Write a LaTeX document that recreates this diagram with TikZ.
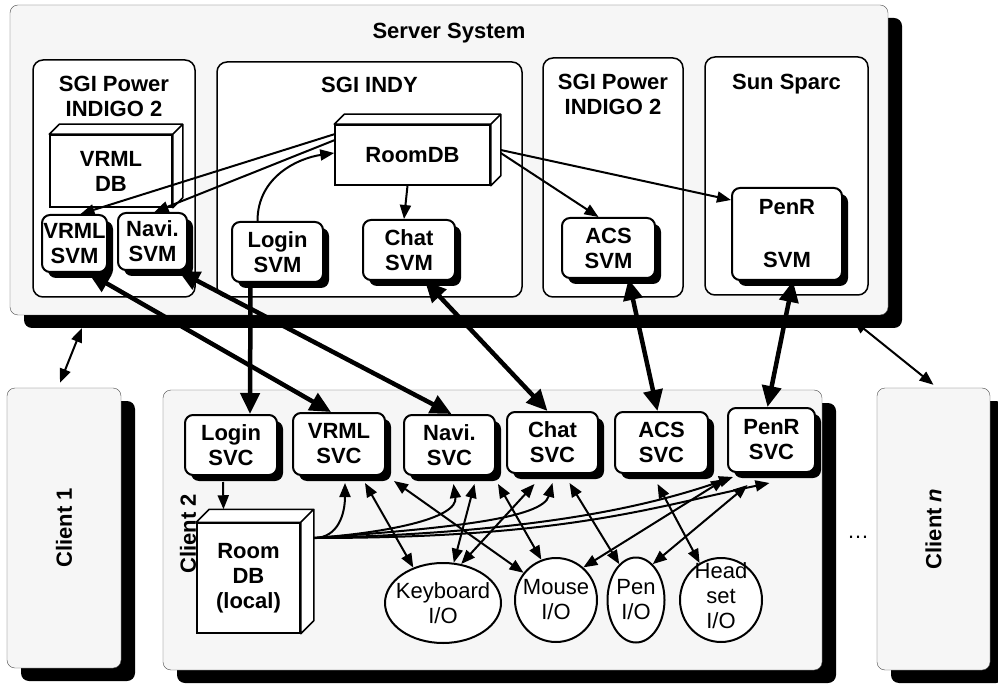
\documentclass[tikz,border=0pt]{standalone}
\usepackage{fontspec}
\setmainfont{Liberation Sans}
\usetikzlibrary{positioning,shapes.geometric,shadows,arrows.meta}
\newcommand{\boldtxt}{\fontsize{22}{25}\selectfont\bfseries}
\newcommand{\plaintxt}{\fontsize{22}{25}\selectfont}
\newcommand{\dbfaces}[2]{%
  \draw[line width=1.5pt,fill=white,line join=round] (#1.north west) -- ([xshift=#2,yshift=#2]#1.north west)
    -- ([xshift=#2,yshift=#2]#1.north east) -- ([xshift=#2,yshift=#2]#1.south east)
    -- (#1.south east) -- (#1.north east) -- cycle
    (#1.north east) -- ([xshift=#2,yshift=#2]#1.north east);}

\begin{document}
\begin{tikzpicture}[x=1pt,y=-1pt,
  sysbox/.style={draw=black!70,thin,fill=gray!7,rounded corners=8pt,
    drop shadow={shadow xshift=14pt,shadow yshift=-13pt,fill=black,opacity=1}},
  hostbox/.style={draw,line width=1.5pt,fill=white,rounded corners=10pt},
  hostlbl/.style={align=center,font=\boldtxt,inner sep=2pt},
  svbox/.style={draw,line width=2pt,fill=white,rounded corners=8pt,align=center,inner sep=1pt,font=\boldtxt,
    drop shadow={shadow xshift=6pt,shadow yshift=-6pt,fill=black,opacity=1}},
  dbbox/.style={draw,line width=1.5pt,fill=white,align=center,font=\boldtxt},
  iobox/.style={draw,ellipse,line width=2pt,fill=white,inner sep=0pt},
  iolbl/.style={align=center,font=\plaintxt,inner sep=0pt},
  fatarrow/.style={line width=4.5pt,-{Triangle[length=21pt,width=19pt]}},
  fatboth/.style={line width=4.5pt,{Triangle[length=21pt,width=19pt]}-{Triangle[length=21pt,width=19pt]}},
  thinarrow/.style={line width=2pt,-{Triangle[length=14pt,width=11pt]}},
  thinboth/.style={line width=2pt,{Triangle[length=14pt,width=11pt]}-{Triangle[length=14pt,width=11pt]}}]

\fill[white] (0,0) rectangle (998,684);
\useasboundingbox (0,0) rectangle (998,684);

\node[sysbox,minimum width=878pt,minimum height=310pt] (srv) at (449,160) {};
\node[hostlbl,below=16pt of srv.north] (srvlbl) {Server System};

\node[hostbox,minimum width=162pt,minimum height=237pt] (indigoA) at (114,178.5) {};
\node[hostlbl,below=15pt of indigoA.north] (indigoAlbl) {SGI Power\\INDIGO 2};
\node[hostbox,minimum width=305pt,minimum height=235pt] (indy) at (369.5,179.5) {};
\node[hostlbl,below=14pt of indy.north] (indylbl) {SGI INDY};
\node[hostbox,minimum width=140pt,minimum height=239pt] (indigoB) at (613,177.5) {};
\node[hostlbl,below=15pt of indigoB.north] (indigoBlbl) {SGI Power\\INDIGO 2};
\node[hostbox,minimum width=163pt,minimum height=238pt] (sparc) at (786.5,176) {};
\node[hostlbl,below=16pt of sparc.north] (sparclbl) {Sun Sparc};

\node[dbbox,minimum width=122pt,minimum height=72pt] (vrmldb) at (111,171) {VRML\\DB};
\dbfaces{vrmldb}{10pt}
\node[dbbox,minimum width=155pt,minimum height=60pt] (roomdb) at (412.5,155) {RoomDB};
\dbfaces{roomdb}{10pt}

\node[svbox,minimum width=65pt,minimum height=57pt] (vrmlsvm) at (74.5,243.5) {VRML\\SVM};
\node[svbox,minimum width=69pt,minimum height=57pt] (navisvm) at (152.5,241.5) {Navi.\\SVM};
\node[svbox,minimum width=91pt,minimum height=60pt] (loginsvm) at (277.5,252) {Login\\SVM};
\node[svbox,minimum width=92pt,minimum height=60pt] (chatsvm) at (409,250) {Chat\\SVM};
\node[svbox,minimum width=93pt,minimum height=60pt] (acssvm) at (608.5,248) {ACS\\SVM};
\node[svbox,minimum width=110pt,minimum height=92pt] (penrsvm) at (787,234) {PenR\\[28pt]SVM};

\node[sysbox,minimum width=114pt,minimum height=280pt] (client1) at (64,528) {};
\node[hostlbl,rotate=90] (client1lbl) at (client1.center) {Client 1};
\node[sysbox,minimum width=659pt,minimum height=280pt] (client2) at (492.5,530) {};
\node[sysbox,minimum width=113pt,minimum height=282pt] (clientn) at (933.5,529) {};
\node[hostlbl,rotate=90] (clientnlbl) at (clientn.center) {Client \textit{n}};
\node[iolbl] (dots) at (858,537) {\dots};

\node[svbox,minimum width=92pt,minimum height=60pt] (loginsvc) at (231,445) {Login\\SVC};
\node[svbox,minimum width=92pt,minimum height=62pt] (vrmlsvc) at (339,444) {VRML\\SVC};
\node[svbox,minimum width=91pt,minimum height=60pt] (navisvc) at (449.5,445) {Navi.\\SVC};
\node[svbox,minimum width=91pt,minimum height=61pt] (chatsvc) at (552.5,442.5) {Chat\\SVC};
\node[svbox,minimum width=93pt,minimum height=61pt] (acssvc) at (661.5,442.5) {ACS\\SVC};
\node[svbox,minimum width=87pt,minimum height=64pt] (penrsvc) at (771.5,440) {PenR\\SVC};

\node[dbbox,minimum width=103pt,minimum height=110pt] (localdb) at (248.5,578) {Room\\DB\\(local)};
\dbfaces{localdb}{13pt}
\node[hostlbl,rotate=90] (client2lbl) at (188,534) {Client 2};

\node[iobox,minimum width=116pt,minimum height=80pt,label={[iolbl]center:{Keyboard\\I/O}}] (kbd) at (443,603) {};
\node[iobox,minimum width=82pt,minimum height=84pt,label={[iolbl]center:{Mouse\\I/O}}] (mouse) at (556,600) {};
\node[iobox,minimum width=57pt,minimum height=85pt,label={[iolbl]center:{Pen\\I/O}}] (pen) at (636,600) {};
\node[iobox,minimum width=82pt,minimum height=84pt,label={[iolbl,yshift=4pt]center:{Head\\set\\I/O}}] (headset) at (721,600) {};

\draw[thinarrow] ([yshift=-10pt]roomdb.north west) -- ([xshift=6pt]vrmlsvm.north);
\draw[thinarrow] ([yshift=-16pt]roomdb.north west) -- ([xshift=2pt]navisvm.north);
\draw[thinarrow] ([xshift=-20pt]loginsvm.north) .. controls +(0,-45) and +(-35,5) .. ([yshift=2pt]roomdb.west);
\draw[thinarrow] ([xshift=-5pt]roomdb.south) -- ([xshift=-5pt]chatsvm.north);
\draw[thinarrow] ([xshift=10pt,yshift=2pt]roomdb.east) -- ([xshift=-10pt]acssvm.north);
\draw[thinarrow] ([xshift=10pt,yshift=5pt]roomdb.east) -- ([yshift=34pt]penrsvm.west);

\draw[thinboth] ([xshift=-4pt,yshift=5pt]client1.north) -- ([xshift=72pt,yshift=-13pt]srv.south west);
\draw[thinboth] ([yshift=3pt]clientn.north) -- ([xshift=-35pt,yshift=-5pt]srv.south east);

\draw[fatboth] ([xshift=14pt]vrmlsvm.south) -- ([xshift=-8pt]vrmlsvc.north);
\draw[fatboth] ([xshift=26pt]navisvm.south) -- ([xshift=2pt]navisvc.north);
\draw[fatarrow] ([xshift=-27pt]loginsvm.south) -- ([xshift=19pt]loginsvc.north);
\draw[fatboth] ([xshift=16pt]chatsvm.south) -- ([xshift=-5pt]chatsvc.north);
\draw[fatboth] ([xshift=20pt]acssvm.south) -- ([xshift=-4pt]acssvc.north);
\draw[fatboth] ([xshift=6pt]penrsvm.south) -- ([xshift=-4pt]penrsvc.north);

\draw[thinarrow] ([xshift=-8pt,yshift=-6pt]loginsvc.south) -- ([xshift=-25pt,yshift=13pt]localdb.north);
\draw[thinarrow] ([xshift=13pt,yshift=40pt]localdb.east) .. controls +(25,0) and +(0,30) .. ([xshift=6pt,yshift=-7pt]vrmlsvc.south);
\draw[thinarrow] ([xshift=13pt,yshift=40pt]localdb.east) .. controls +(70,-5) and +(5,35) .. ([xshift=4pt,yshift=-8pt]navisvc.south);
\draw[thinarrow] ([xshift=13pt,yshift=40pt]localdb.east) .. controls +(140,-10) and +(-10,35) .. ([yshift=-9pt]chatsvc.south);
\draw[thinarrow] ([xshift=13pt,yshift=40pt]localdb.east) .. controls +(200,-5) and +(-100,35) .. ([xshift=6pt,yshift=-4pt]penrsvc.south west);
\draw[thinarrow] ([xshift=13pt,yshift=40pt]localdb.east) .. controls +(250,0) and +(-120,25) .. ([xshift=-2pt,yshift=-10pt]penrsvc.south);

\draw[thinboth] ([xshift=26pt,yshift=-7pt]vrmlsvc.south) -- (kbd.130);
\draw[thinboth] ([xshift=8pt,yshift=-5pt]vrmlsvc.south east) -- (mouse.140);
\draw[thinboth] ([xshift=25pt,yshift=-8pt]navisvc.south) -- (kbd.75);
\draw[thinboth] ([xshift=2pt,yshift=-8pt]navisvc.south east) -- (mouse.110);
\draw[thinboth] ([xshift=-18pt,yshift=-10pt]chatsvc.south) -- (kbd.65);
\draw[thinboth] ([xshift=17pt,yshift=-9pt]chatsvc.south) -- (pen.115);
\draw[thinboth] ([xshift=-4pt,yshift=-10pt]acssvc.south) -- (headset.120);
\draw[thinboth] ([xshift=-2pt,yshift=-6pt]penrsvc.south west) -- (mouse.50);
\draw[thinboth] ([xshift=-24pt,yshift=-12pt]penrsvc.south) -- (pen.65);
\end{tikzpicture}
\end{document}
